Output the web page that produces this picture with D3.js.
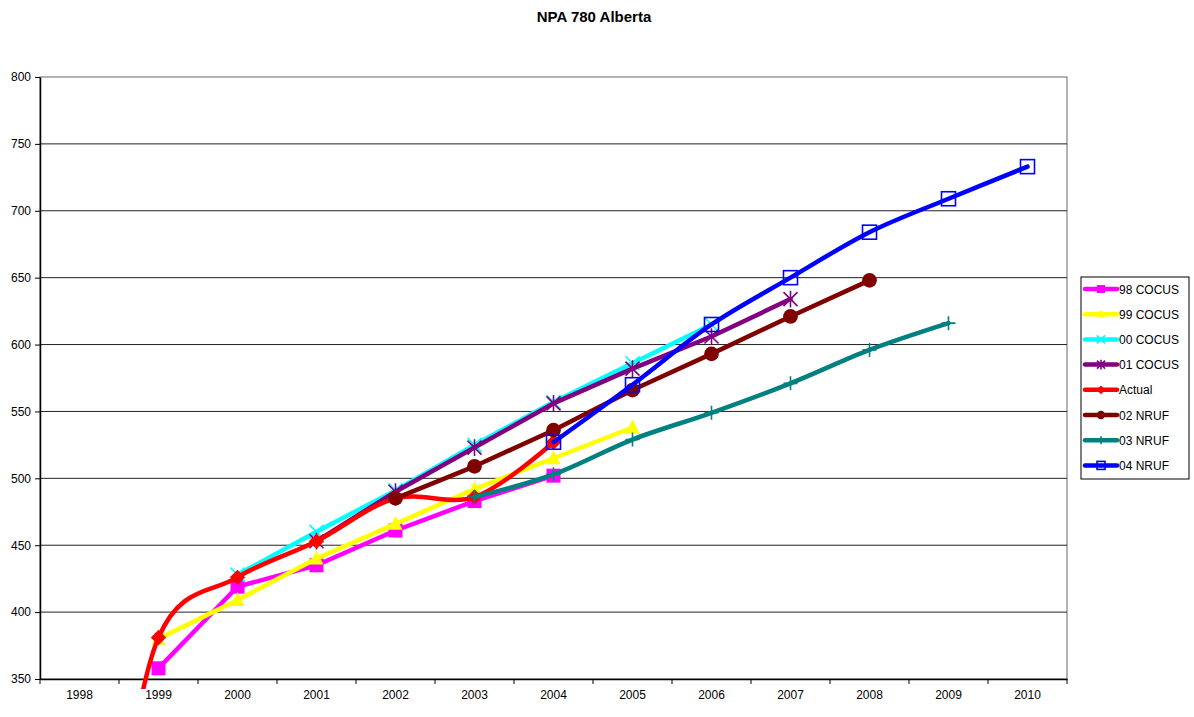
<!DOCTYPE html>
<html><head><meta charset="utf-8">
<script src="https://cdn.jsdelivr.net/npm/d3@7"></script>
<style>body{margin:0;background:#fff}svg{display:block}text{font-family:"Liberation Sans",Arial,sans-serif}</style>
</head><body><svg id="c" width="1194" height="717"></svg>
<script>
const years = ["1998","1999","2000","2001","2002","2003","2004","2005","2006","2007","2008","2009","2010"];
const yTicks = [350,400,450,500,550,600,650,700,750,800];
const s98 = [null,358,419,435,461,483,502,null,null,null,null,null,null];
const s99 = [null,380,409,440,466,492,515,538,null,null,null,null,null];
const s00 = [null,null,428,460,491,525,557,586,615,null,null,null,null];
const s01 = [null,null,null,453,490,523,556,582,606,634,null,null,null];
const actual = [0,381,426,453,485,486,527,null,null,null,null,null,null];
const n02 = [null,null,null,null,485,509,536,566,593,621,648,null,null];
const n03 = [null,null,null,null,null,486,503,529,549,571,596,616,null];
const n04 = [null,null,null,null,null,null,527,570,615,650,684,709,733];

const series = [
  {name:"98 COCUS", data:s98, color:"#ff00ff", marker:"square", smooth:false},
  {name:"99 COCUS", data:s99, color:"#ffff00", marker:"triangle", smooth:false},
  {name:"00 COCUS", data:s00, color:"#00ffff", marker:"x", smooth:false},
  {name:"01 COCUS", data:s01, color:"#800080", marker:"star", smooth:false},
  {name:"Actual", data:actual, color:"#ff0000", marker:"diamond", smooth:true},
  {name:"02 NRUF", data:n02, color:"#800000", marker:"circle", smooth:false},
  {name:"03 NRUF", data:n03, color:"#008080", marker:"plus", smooth:true},
  {name:"04 NRUF", data:n04, color:"#0000ff", marker:"hsquare", smooth:true}
];

const svg = d3.select("#c");
const L=40, R=1067, T=77, B=679;
const x = d3.scaleBand().domain(years).range([L,R]).padding(0);
const cx = d => x(d)+x.bandwidth()/2;
const y = d3.scaleLinear().domain([350,800]).range([B,T]);

svg.append("text").attr("x",594).attr("y",22).attr("text-anchor","middle")
  .attr("font-size",15).attr("font-weight","bold").text("NPA 780 Alberta");

// plot border
svg.append("rect").attr("x",L).attr("y",T).attr("width",R-L).attr("height",B-T)
  .attr("fill","none").attr("stroke","#808080").attr("stroke-width",1.2);
// gridlines
svg.append("g").selectAll("line").data(yTicks.filter(v=>v>350&&v<800)).join("line")
  .attr("x1",L).attr("x2",R).attr("y1",d=>y(d)).attr("y2",d=>y(d))
  .attr("stroke","#222").attr("stroke-width",1);

const yAxis = d3.axisLeft(y).tickValues(yTicks).tickSize(5).tickSizeOuter(0);
const gy = svg.append("g").attr("transform",`translate(${L},0)`).call(yAxis);
gy.select(".domain").attr("stroke","#000").attr("stroke-width",1.5);
gy.selectAll("text").attr("font-size",12).attr("fill","#000").attr("dx",-1).attr("font-family","Liberation Sans, Arial, sans-serif");

const xAxis = d3.axisBottom(x).tickSize(0).tickSizeOuter(0);
const gx = svg.append("g").attr("transform",`translate(0,${B})`).call(xAxis);
gx.select(".domain").attr("stroke","#000").attr("stroke-width",1.5);
gx.selectAll("text").attr("font-size",12).attr("fill","#000").attr("dy","1.45em").attr("font-family","Liberation Sans, Arial, sans-serif");
svg.append("g").selectAll("line").data(d3.range(years.length+1)).join("line")
  .attr("x1",i=>L+i*x.bandwidth()).attr("x2",i=>L+i*x.bandwidth())
  .attr("y1",B).attr("y2",B+5).attr("stroke","#000").attr("stroke-width",1);

svg.append("clipPath").attr("id","clip").append("rect")
  .attr("x",L).attr("y",T-10).attr("width",R-L+10).attr("height",B-T+20);

function drawMarker(g, type, color, px, py, s){
  const h=s/2;
  if(type==="square") g.append("rect").attr("x",px-h).attr("y",py-h).attr("width",s).attr("height",s).attr("fill",color);
  else if(type==="hsquare") g.append("rect").attr("x",px-h).attr("y",py-h).attr("width",s).attr("height",s).attr("fill","none").attr("stroke",color).attr("stroke-width",1.6);
  else if(type==="triangle") g.append("path").attr("d",`M${px},${py-h*1.15}L${px+h},${py+h*0.85}L${px-h},${py+h*0.85}Z`).attr("fill",color);
  else if(type==="diamond") g.append("path").attr("d",`M${px},${py-h*1.1}L${px+h*1.1},${py}L${px},${py+h*1.1}L${px-h*1.1},${py}Z`).attr("fill",color);
  else if(type==="circle") g.append("circle").attr("cx",px).attr("cy",py).attr("r",h*1.05).attr("fill",color);
  else if(type==="x") g.append("path").attr("d",`M${px-h},${py-h}L${px+h},${py+h}M${px-h},${py+h}L${px+h},${py-h}`).attr("stroke",color).attr("stroke-width",1.6);
  else if(type==="star") g.append("path").attr("d",`M${px-h},${py-h}L${px+h},${py+h}M${px-h},${py+h}L${px+h},${py-h}M${px},${py-h*1.2}L${px},${py+h*1.2}`).attr("stroke",color).attr("stroke-width",1.6);
  else if(type==="plus") g.append("path").attr("d",`M${px-h},${py}L${px+h},${py}M${px},${py-h}L${px},${py+h}`).attr("stroke",color).attr("stroke-width",1.6);
}

const plotG = svg.append("g").attr("clip-path","url(#clip)");
series.forEach(s=>{
  const pts = years.map((yr,i)=>({yr, v:s.data[i]})).filter(p=>p.v!==null);
  const line = d3.line().x(p=>cx(p.yr)).y(p=>y(p.v)).curve(s.smooth?d3.curveCatmullRom.alpha(0.3):d3.curveLinear);
  plotG.append("path").attr("d",line(pts)).attr("fill","none").attr("stroke",s.color)
    .attr("stroke-width",4.5).attr("stroke-linejoin","round").attr("stroke-linecap","round");
  const mg = plotG.append("g");
  pts.filter(p=>p.v>=350).forEach(p=>drawMarker(mg,s.marker,s.color,cx(p.yr),y(p.v),14));
});

// legend
const lg = svg.append("g");
lg.append("rect").attr("x",1081).attr("y",277).attr("width",108).attr("height",202)
  .attr("fill","#fff").attr("stroke","#000").attr("stroke-width",1);
series.forEach((s,i)=>{
  const ly = 289 + i*25.2;
  lg.append("line").attr("x1",1085).attr("x2",1117).attr("y1",ly).attr("y2",ly)
    .attr("stroke",s.color).attr("stroke-width",4.5).attr("stroke-linecap","round");
  drawMarker(lg,s.marker,s.color,1101,ly,8);
  lg.append("text").attr("x",1119).attr("y",ly+4.5).attr("font-size",12).attr("fill","#000").text(s.name);
});
</script></body></html>
